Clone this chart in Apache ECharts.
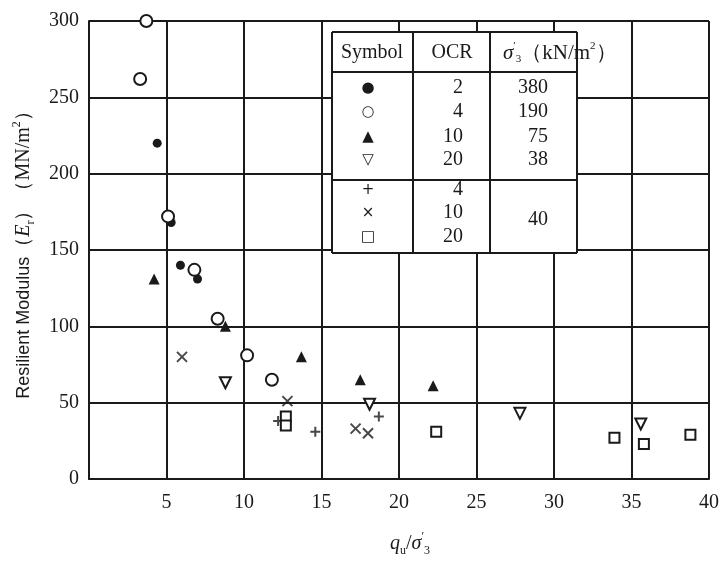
<!DOCTYPE html>
<html lang="en">
<head>
    <meta charset="UTF-8">
    <title>Resilient modulus vs qu/sigma3</title>
    <script src="https://cdn.jsdelivr.net/npm/echarts@6/dist/echarts.min.js"></script>
    <style>
        html, body, #main {
            width: 727px;
            height: 565px;
            padding: 0;
            margin: 0;
            background: #fff;
        }
    </style>
</head>
<body>
<div id="main"></div>
<script>
    // data: [qu/sigma3, Er]
    var ocr2 = [[4.4, 220], [5.3, 168], [5.9, 140], [7.0, 131]];
    var ocr4 = [[3.7, 300], [3.3, 262], [5.1, 172], [6.8, 137], [8.3, 105], [10.2, 81], [11.8, 65]];
    var ocr10 = [[4.2, 131], [8.8, 100], [13.7, 80], [17.5, 65], [22.2, 61]];
    var ocr20 = [[8.8, 63], [18.1, 49], [27.8, 43], [35.6, 36]];
    var plus40 = [[12.2, 38], [14.6, 31], [18.7, 41]];
    var cross40 = [[6.0, 80], [12.8, 51], [17.2, 33], [18.0, 30]];
    var square40 = [[12.7, 41], [12.7, 35], [22.4, 31], [33.9, 27], [35.8, 23], [38.8, 29]];

    var xTicks = [5, 10, 15, 20, 25, 30, 35, 40];

    // legend table rows
    var tableTop = [
        {sym: "●", ocr: "2", s3: "380"},
        {sym: "○", ocr: "4", s3: "190"},
        {sym: "▲", ocr: "10", s3: "75"},
        {sym: "▽", ocr: "20", s3: "38"}
    ];
    var tableBottom = [
        {sym: "+", ocr: "4"},
        {sym: "×", ocr: "10"},
        {sym: "□", ocr: "20"}
    ];

    var serif = "Liberation Serif";
    var sans = "Liberation Sans";
    var ink = "#1a1a1a";

    var plusPath = "path://M5,0L5,10M0,5L10,5";
    var crossPath = "path://M0,0L10,10M10,0L0,10";

    function scatter(data, symbol, size, filled, rotate) {
        return {
            type: "scatter",
            data: data,
            symbol: symbol,
            symbolSize: size,
            symbolRotate: rotate || 0,
            itemStyle: {
                color: filled ? ink : "#fff",
                borderColor: ink,
                borderWidth: filled ? 0 : 2,
                opacity: 1
            },
            z: 5
        };
    }

    function lineSeries(data, path) {
        return {
            type: "scatter",
            data: data,
            symbol: path,
            symbolSize: 10,
            itemStyle: {
                color: "none",
                borderColor: ink,
                borderWidth: 2
            },
            z: 5
        };
    }

    var graphics = [];
    var L = 332, R = 577, T = 32, B = 253;
    var hdr = 72, sep = 180, c1 = 413, c2 = 490;
    var lineStyle = {stroke: ink, lineWidth: 2};
    function hline(y, x1, x2) {
        graphics.push({type: "line", shape: {x1: x1, y1: y, x2: x2, y2: y}, style: lineStyle, z: 11});
    }
    function vline(x, y1, y2) {
        graphics.push({type: "line", shape: {x1: x, y1: y1, x2: x, y2: y2}, style: lineStyle, z: 11});
    }
    function txt(x, y, s, align, size, family) {
        graphics.push({
            type: "text", x: x, y: y, z: 12,
            style: {
                text: s, fill: ink, align: align, verticalAlign: "middle",
                font: (size || 20) + "px '" + (family || serif) + "'"
            }
        });
    }
    graphics.push({type: "rect", shape: {x: L, y: T, width: R - L, height: B - T}, style: {fill: "#fff"}, z: 10});
    hline(T, L, R); hline(B, L, R); hline(hdr, L, R); hline(sep, L, R);
    vline(L, T, B); vline(R, T, B); vline(c1, T, B); vline(c2, T, B);
    txt(372, 53, "Symbol", "center");
    txt(452, 53, "OCR", "center");
    graphics.push({
        type: "text", x: 503, y: 53, z: 12,
        style: {
            text: "{i|σ}{p|′}{s|3}{a|（kN/m}{p|2}{a|）}",
            verticalAlign: "middle",
            rich: {
                a: {fontFamily: serif, fontSize: 21, fill: ink, lineHeight: 24},
                i: {fontFamily: serif, fontSize: 21, fontStyle: "italic", fill: ink, lineHeight: 24},
                p: {fontFamily: serif, fontSize: 11, fill: ink, verticalAlign: "top", lineHeight: 24},
                s: {fontFamily: serif, fontSize: 11, fill: ink, verticalAlign: "bottom", lineHeight: 24}
            }
        }
    });
    var topY = [88, 112, 137, 160];
    tableTop.forEach(function (r, i) {
        txt(368, topY[i], r.sym, "center", 15, "DejaVu Sans");
        txt(463, topY[i], r.ocr, "right");
        txt(548, topY[i], r.s3, "right");
    });
    var botY = [190, 213, 237];
    tableBottom.forEach(function (r, i) {
        txt(368, botY[i], r.sym, "center", 15, "DejaVu Sans");
        txt(463, botY[i], r.ocr, "right");
    });
    txt(538, 220, "40", "center");

    var nameRich = {
        a: {fontFamily: serif, fontSize: 20, color: ink, lineHeight: 26},
        b: {fontFamily: sans, fontSize: 18, color: ink, lineHeight: 26},
        i: {fontFamily: serif, fontSize: 20, fontStyle: "italic", color: ink, lineHeight: 26},
        p: {fontFamily: serif, fontSize: 12, color: ink, verticalAlign: "top", lineHeight: 26},
        s: {fontFamily: serif, fontSize: 12, color: ink, verticalAlign: "bottom", lineHeight: 26}
    };

    var chart = echarts.init(document.getElementById("main"));
    chart.setOption({
        backgroundColor: "#fff",
        animation: false,
        grid: {left: 89, right: 18, top: 21, bottom: 86, outerBoundsMode: "none", containLabel: false},
        xAxis: {
            type: "value", min: 0, max: 40, interval: 5,
            name: "{i|q}{s|u}{a|/}{i|σ}{p|′}{s|3}",
            nameLocation: "middle", nameGap: 52,
            nameTextStyle: {rich: nameRich, padding: [0, 0, 0, 22]},
            axisLine: {lineStyle: {color: ink, width: 2}},
            axisTick: {show: false},
            splitLine: {lineStyle: {color: ink, width: 2}},
            axisLabel: {
                margin: 14, fontFamily: serif, fontSize: 20, color: ink,
                formatter: function (v) { return xTicks.indexOf(v) >= 0 ? String(v) : ""; }
            }
        },
        yAxis: {
            type: "value", min: 0, max: 300, interval: 50,
            name: "{b|Resilient Modulus}{a|（}{i|E}{s|r}{a|）（MN/m}{p|2}{a|）}",
            nameLocation: "middle", nameGap: 52, nameRotate: 90,
            nameTextStyle: {rich: nameRich},
            axisLine: {show: true, lineStyle: {color: ink, width: 2}},
            axisTick: {show: false},
            splitLine: {lineStyle: {color: ink, width: 2}},
            axisLabel: {margin: 10, fontFamily: serif, fontSize: 20, color: ink}
        },
        graphic: graphics,
        series: [
            scatter(ocr2, "circle", 9, true),
            scatter(ocr4, "circle", 12, false),
            scatter(ocr10, "triangle", 11, true),
            scatter(ocr20, "triangle", 11, false, 180),
            lineSeries(plus40, plusPath),
            lineSeries(cross40, crossPath),
            scatter(square40, "rect", 10, false)
        ]
    });
</script>
</body>
</html>
